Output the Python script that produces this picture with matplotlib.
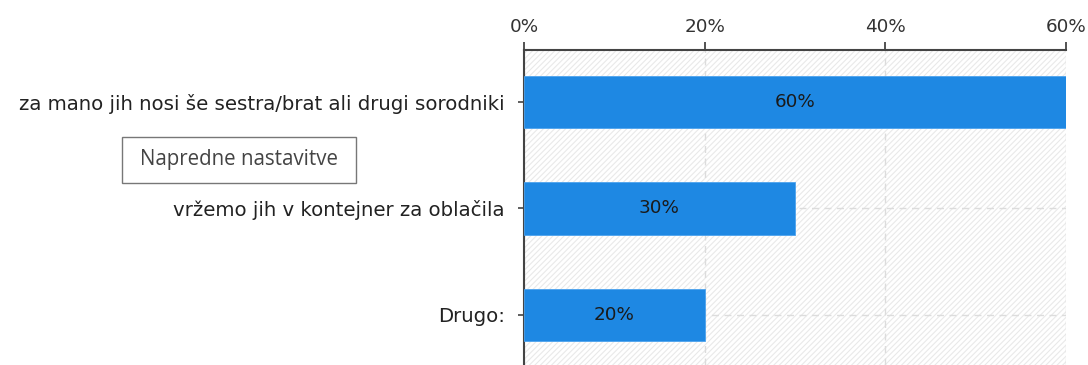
import matplotlib
matplotlib.use("Agg")
import matplotlib.pyplot as plt
from matplotlib.patches import Rectangle

categories = ["za mano jih nosi še sestra/brat ali drugi sorodniki",
              "vržemo jih v kontejner za oblačila",
              "Drugo:"]
values = [60, 30, 20]
value_labels = ["60%", "30%", "20%"]
xticks = [0, 20, 40, 60]
xtick_labels = ["0%", "20%", "40%", "60%"]

W, H = 1088, 365
plt.rcParams["hatch.color"] = "#e9e9e9"
plt.rcParams["hatch.linewidth"] = 0.8
fig = plt.figure(figsize=(W / 100, H / 100), dpi=100)
fig.patch.set_facecolor("white")

ax = fig.add_axes([524 / W, 0, (1066 - 524) / W, 1 - 50 / H])
ax.set_facecolor("white")

# hatched background
bg = Rectangle((0, 0), 1, 1, transform=ax.transAxes, facecolor="white",
               edgecolor="#e9e9e9", hatch="//////", linewidth=0, zorder=0)
ax.add_patch(bg)

ypos = list(range(len(categories)))
ax.barh(ypos, values, height=0.49, color="#1e88e3", edgecolor="#4da3ee",
        linewidth=0.6, zorder=3)
for y, v, lab in zip(ypos, values, value_labels):
    ax.text(v / 2, y, lab, ha="center", va="center", fontsize=13.2,
            color="#1a1a1a", zorder=4)

ax.set_xlim(0, 60)
ax.set_ylim(2.47, -0.488)
ax.set_xticks(xticks)
ax.set_xticklabels(xtick_labels, fontsize=13.2, color="#333333")
ax.set_yticks(ypos)
ax.set_yticklabels(categories, fontsize=14.2, color="#222222")
ax.xaxis.tick_top()
ax.tick_params(axis="x", direction="out", length=6, width=1.3, color="#444444", pad=4)
ax.tick_params(axis="y", direction="out", length=4, width=1.2, color="#444444", pad=10)

ax.grid(True, which="major", axis="both", linestyle=(0, (5, 4)), color="#dcdcdc",
        linewidth=1.0, zorder=1)
ax.set_axisbelow(True)

for s in ["right", "bottom"]:
    ax.spines[s].set_visible(False)
ax.spines["top"].set_color("#444444")
ax.spines["top"].set_linewidth(1.5)
ax.spines["left"].set_color("#444444")
ax.spines["left"].set_linewidth(1.5)

# "Napredne nastavitve" box
box = Rectangle((122 / W, 1 - 183 / H), (356 - 122) / W, (183 - 137) / H,
                transform=fig.transFigure, facecolor="white", edgecolor="#777777",
                linewidth=1.0)
fig.patches.append(box)
fig.text(239 / W, 1 - 160 / H, "Napredne nastavitve", ha="center", va="center",
         fontsize=14.8, color="#444444", family="Open Sans")

fig.savefig("out.png", dpi=100)
